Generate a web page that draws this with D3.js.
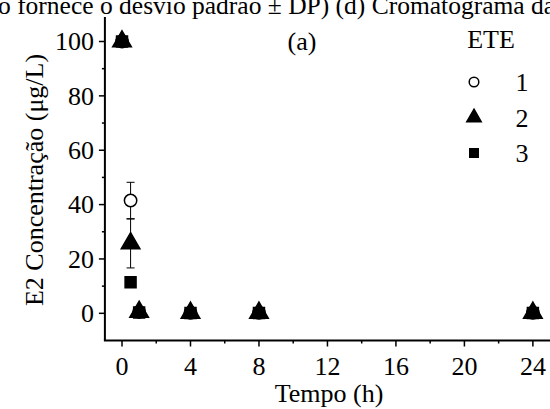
<!DOCTYPE html>
<html>
<head>
<meta charset="utf-8">
<script src="https://cdn.jsdelivr.net/npm/d3@7"></script>
<style>
  body { margin: 0; background: #fff; }
  svg, svg text { font-family: "Liberation Serif", "DejaVu Serif", serif; fill: #000; }
</style>
</head>
<body>
<div id="chart"></div>
<script>
// time points (h) and E2 concentration per plant (ETE 1..3)
var tempo = [0, 0.5, 1, 4, 8, 24];
var ete1 = [100, 41.5, 0.5, 0.2, 0.2, 0.2];
var ete1Sd = [0, 6.7, 1.5, 0, 0, 0];
var ete2 = [100, 25.7, 0.5, 0.2, 0.2, 0.2];
var ete2Sd = [0, 9, 0, 0, 0, 0];
var ete3 = [100, 11.4, 0.3, 0.1, 0.1, 0.1];
var ete3Sd = [0, 0, 0, 0, 0, 0];
var xTicks = [0, 4, 8, 12, 16, 20, 24];
var yTicks = [0, 20, 40, 60, 80, 100];
var legendLabels = ["1", "2", "3"];

var W = 550, H = 409, FS = "26px";
var svg = d3.select("#chart").append("svg")
    .attr("width", W)
    .attr("height", H)
    .attr("font-family", "'Liberation Serif', 'DejaVu Serif', serif");

// plot area
var x = d3.scaleLinear().domain([-1, 25]).range([104.9, 550]);
var y = d3.scaleLinear().domain([-10, 100]).range([340.5, 41.5]);

// caption fragment cut at top of the figure
svg.append("text")
    .attr("x", -2)
    .attr("y", 14)
    .style("font-size", "25.5px")
    .text("o fornece o desvio padrão ± DP) (d) Cromatograma da");

// y axis
var yAxis = svg.append("g")
    .attr("transform", "translate(" + x(-1) + ",0)");
yAxis.append("line")
    .attr("x1", 0).attr("x2", 0)
    .attr("y1", 17).attr("y2", y(-10))
    .attr("stroke", "#000").attr("stroke-width", 2);
yAxis.selectAll(".major")
    .data(yTicks).enter().append("line")
    .attr("x1", -6).attr("x2", 0)
    .attr("y1", d => y(d)).attr("y2", d => y(d))
    .attr("stroke", "#000").attr("stroke-width", 1.5);
yAxis.selectAll(".minor")
    .data([10, 30, 50, 70, 90]).enter().append("line")
    .attr("x1", -3).attr("x2", 0)
    .attr("y1", d => y(d)).attr("y2", d => y(d))
    .attr("stroke", "#000").attr("stroke-width", 1.5);
yAxis.selectAll(".lbl")
    .data(yTicks).enter().append("text")
    .attr("x", -11)
    .attr("y", d => y(d))
    .attr("dy", "0.34em")
    .style("text-anchor", "end")
    .style("font-size", FS)
    .text(d => d);

// x axis
var xAxis = svg.append("g")
    .attr("transform", "translate(0," + y(-10) + ")");
xAxis.append("line")
    .attr("x1", x(-1) - 1).attr("x2", W)
    .attr("y1", 0).attr("y2", 0)
    .attr("stroke", "#000").attr("stroke-width", 2);
xAxis.selectAll(".major")
    .data(xTicks).enter().append("line")
    .attr("x1", d => x(d)).attr("x2", d => x(d))
    .attr("y1", 0).attr("y2", 6)
    .attr("stroke", "#000").attr("stroke-width", 1.5);
xAxis.selectAll(".minor")
    .data([2, 6, 10, 14, 18, 22]).enter().append("line")
    .attr("x1", d => x(d)).attr("x2", d => x(d))
    .attr("y1", 0).attr("y2", 3)
    .attr("stroke", "#000").attr("stroke-width", 1.5);
xAxis.selectAll(".lbl")
    .data(xTicks).enter().append("text")
    .attr("x", d => x(d))
    .attr("y", 34.5)
    .style("text-anchor", "middle")
    .style("font-size", FS)
    .text(d => d);

// axis titles
svg.append("text")
    .attr("x", 329)
    .attr("y", 402)
    .style("text-anchor", "middle")
    .style("font-size", FS)
    .text("Tempo (h)");
svg.append("text")
    .attr("transform", "translate(43," + 180 + ") rotate(-90)")
    .style("text-anchor", "middle")
    .style("font-size", FS)
    .text("E2 Concentração (μg/L)");

// panel label
svg.append("text")
    .attr("x", 302)
    .attr("y", 50)
    .style("text-anchor", "middle")
    .style("font-size", FS)
    .text("(a)");

var series = [
  {vals: ete1, sd: ete1Sd, sym: d3.symbolCircle, size: 120, fill: "#fff"},
  {vals: ete2, sd: ete2Sd, sym: d3.symbolTriangle, size: 150, fill: "#000"},
  {vals: ete3, sd: ete3Sd, sym: d3.symbolSquare, size: 120, fill: "#000"}
];

// error bars
series.forEach(function(s) {
  var pts = tempo.map((t, i) => ({t: t, v: s.vals[i], sd: s.sd[i]})).filter(d => d.sd > 0);
  var g = svg.append("g").attr("stroke", "#000").attr("stroke-width", 1);
  g.selectAll(".v").data(pts).enter().append("line")
      .attr("x1", d => x(d.t)).attr("x2", d => x(d.t))
      .attr("y1", d => y(d.v - d.sd)).attr("y2", d => y(d.v + d.sd));
  [-1, 1].forEach(function(sgn) {
    g.selectAll(".c" + sgn).data(pts).enter().append("line")
        .attr("x1", d => x(d.t) - 4).attr("x2", d => x(d.t) + 4)
        .attr("y1", d => y(d.v + sgn * d.sd)).attr("y2", d => y(d.v + sgn * d.sd));
  });
});

// markers
series.forEach(function(s) {
  svg.append("g").selectAll("path")
      .data(tempo.map((t, i) => ({t: t, v: s.vals[i]})))
      .enter().append("path")
      .attr("d", d3.symbol().type(s.sym).size(s.size))
      .attr("transform", d => "translate(" + x(d.t) + "," + y(d.v) + ")")
      .attr("fill", s.fill)
      .attr("stroke", "#000")
      .attr("stroke-width", 1.5);
});

// legend
svg.append("text")
    .attr("x", 491)
    .attr("y", 48)
    .style("text-anchor", "middle")
    .style("font-size", FS)
    .text("ETE");
var leg = svg.append("g").selectAll("g")
    .data(series).enter().append("g")
    .attr("transform", (d, i) => "translate(474," + (82 + i * 35.5) + ")");
leg.append("path")
    .attr("d", d => d3.symbol().type(d.sym).size(d.size * 0.6)())
    .attr("fill", d => d.fill)
    .attr("stroke", "#000")
    .attr("stroke-width", 1.5);
leg.append("text")
    .attr("x", 48)
    .attr("dy", "0.35em")
    .style("text-anchor", "middle")
    .style("font-size", FS)
    .text((d, i) => legendLabels[i]);
</script>
</body>
</html>
